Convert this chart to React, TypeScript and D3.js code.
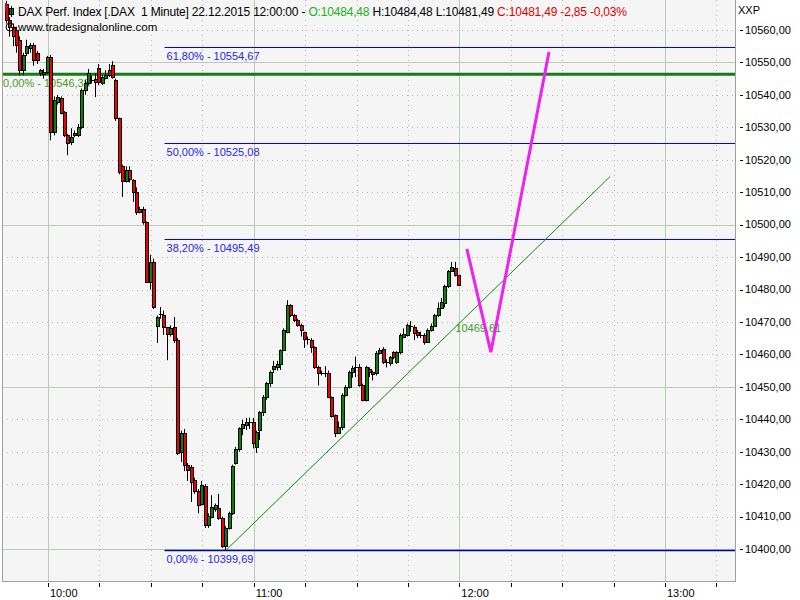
import React from "react";
import * as d3 from "d3";

// ---- data ----
const firstBarTime = "09:48";
const opens = [10568,10563,10561,10560,10556.9,10547.6,10553,10554.5,10555.3,10552.8,10546.8,10547,10547,10551.6,10528.5,10537.8,10539,10534.7,10527.6,10525.4,10528.2,10527.6,10530.1,10541.5,10543.6,10544.6,10545,10548.2,10543.6,10545.2,10547.6,10549.2,10544.6,10532.8,10518,10513.4,10516.8,10513.7,10510,10503.9,10504.8,10500.8,10482.3,10488.5,10468.7,10472,10472.1,10468.4,10466.2,10468.4,10464.4,10429.9,10435.8,10425.9,10425.3,10421.2,10417.9,10413.9,10419.4,10407.4,10409.9,10412.3,10412.6,10409.6,10400.9,10406.5,10411.1,10426.5,10430.8,10437.3,10438.2,10438.8,10439.1,10431.4,10436.7,10442.2,10446.9,10451.2,10455.5,10456.1,10457,10461.3,10466.9,10475.2,10472.1,10470.6,10469.1,10466.9,10464.7,10464.4,10462.3,10456.1,10454.3,10454.2,10454.3,10446.9,10441.3,10435.8,10437.6,10447.5,10449.9,10454.6,10456.1,10456.1,10450.6,10445.9,10455.5,10454.6,10454.2,10460.4,10461.6,10457.6,10457.3,10460.7,10457.6,10460.7,10465.5,10466,10468.8,10468.4,10466.9,10466,10466,10463.8,10467.5,10468.8,10472.1,10474.3,10475.8,10481.1,10485.8,10486.6,10484.48];
const highs = [10569,10564,10562,10561,10558,10553,10557,10556,10556,10553.5,10548,10548,10552,10552.3,10539.5,10540,10539.5,10535,10528,10529.7,10529,10531,10542,10544.5,10548,10546,10546.7,10549.5,10546,10547.6,10549.5,10550.4,10545,10533,10518.5,10518,10518,10514,10511.5,10505.5,10505.5,10501,10490.7,10489.5,10472,10474.6,10473.5,10468.5,10469,10471.5,10465,10436.5,10437,10426.5,10425.9,10422,10418.5,10421,10420,10411,10416.6,10414,10417,10410,10407,10411.5,10426,10431.5,10437.5,10439.8,10440.4,10440.5,10440.4,10436.5,10442.5,10447.5,10451.5,10455,10458,10458,10461.5,10468,10476.7,10475.5,10472.5,10471,10469.5,10467,10465.5,10465,10462.5,10456.5,10455,10456.4,10455,10447,10441.5,10439.3,10448,10450.5,10455,10456.5,10459.3,10457,10451,10456.5,10456,10455,10461,10462,10462.2,10458.5,10459.5,10461,10461,10466.5,10468,10469.5,10470.3,10469,10467.5,10467,10466.5,10468,10469.5,10472.5,10476,10477.4,10481.5,10486,10488.5,10488.5,10484.48];
const lows = [10562,10558,10555,10553,10546,10546,10552,10553,10549,10549.5,10545.8,10545,10546.5,10526,10527.5,10537,10534,10527,10521.4,10524.5,10527,10527,10529.5,10540,10543,10543.5,10539.3,10543,10543,10544.8,10545.5,10545,10532,10515.5,10508.5,10513,10513,10507,10503,10503.5,10500,10482,10480,10474,10463.5,10471,10466,10458.2,10465.5,10463.5,10429,10426.8,10424,10421,10414.5,10417,10411,10413.5,10406.5,10406.5,10409.5,10411.5,10409,10400.3,10399.69,10406,10410.5,10426,10430,10435.1,10436.7,10437,10431,10429.6,10433.6,10441,10446,10450,10454.3,10455,10455.2,10461,10466.5,10471.5,10470,10468.5,10465.5,10462,10463,10460.5,10455.5,10450.4,10453.5,10453,10446.5,10440.5,10434.5,10435.5,10436.7,10447,10449.5,10452.8,10453,10450,10445.5,10445.5,10453,10452,10453.5,10460,10457,10456,10456.5,10458.5,10457,10460,10465,10465.5,10467,10464.4,10465,10465,10463,10463.5,10467,10468.5,10471.5,10474,10474.5,10480.5,10485.5,10484,10481.49];
const closes = [10563,10561,10558,10555.5,10547.6,10552.3,10555,10555.3,10550.7,10550.7,10547.6,10546.5,10551.7,10528.5,10538.4,10539.3,10534.4,10527.6,10525.2,10527,10527.6,10530.1,10541.5,10543.6,10546.7,10544.2,10544,10543.9,10545.5,10546.1,10546,10545.5,10532.8,10516.2,10513.4,10516.8,10514,10510,10503.9,10504.8,10500.8,10482.3,10488.5,10474.6,10471.5,10472.5,10468.4,10466.2,10468.1,10464.4,10429.6,10435.8,10425.9,10424.3,10420.6,10417.9,10413.6,10419.7,10407.4,10410.2,10412.9,10413.6,10409.6,10400.9,10406.5,10411.1,10425.6,10430.8,10437.3,10438.5,10439.1,10439,10432.7,10436.1,10442.2,10446.9,10451.2,10454.6,10456.4,10457,10461.3,10467.5,10475.2,10472.1,10470.6,10469.1,10467.5,10464.7,10464.5,10462.3,10456.1,10454.3,10454.4,10454.4,10446.9,10441,10435.8,10437.6,10447.5,10449.9,10454.6,10455.8,10456.2,10450.6,10445.9,10456.1,10454.6,10453.9,10460.4,10461.3,10457.6,10457.7,10459.2,10459.2,10460.7,10466,10466.2,10469.1,10468.6,10466.6,10466,10465.8,10463.8,10467.5,10468.8,10472.1,10474.3,10476.1,10481.1,10485.8,10486.9,10484.34,10481.49];

const yTickValues = [10400,10410,10420,10430,10440,10450,10460,10470,10480,10490,10500,10510,10520,10530,10540,10550,10560];
const hourLabels = ["10:00", "11:00", "12:00", "13:00"];

const fibPercents = ["0,00%", "38,20%", "50,00%", "61,80%"];
const fibValues = [10399.69, 10495.49, 10525.08, 10554.67];
const fibStart = "10:34";

const greenLevelPercent = "0,00%";
const greenLevelValue = 10546.38;

const trendTimes = ["10:52", "12:44"];
const trendValues = [10399.69, 10514.85];
const trendLabelTime = "12:00";
const trendLabelValue = 10469.61;

const projTimes = ["12:02:12", "12:09:12", "12:26:09"];
const projValues = [10492.5, 10460.7, 10553.2];

const headerParts = [
  { text: "DAX Perf. Index [.DAX  1 Minute] 22.12.2015 12:00:00 - ", color: "#000" },
  { text: "O:10484,48", color: "#22b022" },
  { text: " H:10484,48 L:10481,49 ", color: "#000" },
  { text: "C:10481,49 -2,85 -0,03%", color: "#e00000" },
];
const siteText = "www.tradesignalonline.com";
const axisName = "XXP";

// ---- helpers ----
const parseT = (s: string) => {
  const [h, m, sec] = s.split(":").map(Number);
  return new Date(2015, 11, 22, h, m, sec || 0);
};
const fmt = (v: number) => d3.format(".2f")(v).replace(".", ",");

const FONT = "'Liberation Sans', Arial, sans-serif";
const PL = 2, PR = 735, PT = 0, PB = 581;

export default function App() {
  const x = d3.scaleTime().domain([parseT("10:00"), parseT("13:00")]).range([48, 665]);
  const y = d3.scaleLinear().domain([10400, 10560]).range([549, 30]);

  const start = parseT(firstBarTime);
  const bars = opens.map((o, i) => ({
    t: d3.timeMinute.offset(start, i),
    o, h: highs[i], l: lows[i], c: closes[i],
  }));

  const tMin = x.invert(PL), tMax = x.invert(PR);
  const quarterTicks = d3.timeMinute.every(15)!.range(tMin, tMax);
  const gridVals = d3.range(10390, 10571, 10).filter((v) => y(v) >= PT && y(v) <= PB);

  const line = d3.line<[Date, number]>().x((d) => x(d[0])).y((d) => y(d[1]));

  const dotted = "#b4b4b4";
  const solid = "#b6cdb0";

  return (
    <svg width={800} height={600} style={{ position: "absolute", left: 0, top: 0, background: "#fff" }} fontFamily={FONT}>
      <defs>
        <clipPath id="plotclip">
          <rect x={PL} y={PT} width={PR - PL} height={PB - PT} />
        </clipPath>
      </defs>
      <rect x={PL} y={PT} width={PR - PL} height={PB - PT} fill="#f5f5f5" />
      <g clipPath="url(#plotclip)">
        {/* horizontal grid */}
        {gridVals.map((v) => (
          <line key={"h" + v} x1={PL} x2={PR} y1={Math.round(y(v)) + 0.5} y2={Math.round(y(v)) + 0.5}
            stroke={v % 50 === 0 ? solid : dotted} strokeWidth={1}
            strokeDasharray={v % 50 === 0 ? undefined : "1 4"} />
        ))}
        {/* vertical grid */}
        {quarterTicks.map((t) => {
          const isHour = t.getMinutes() === 0;
          const xx = Math.round(x(t)) + 0.5;
          return (
            <line key={"v" + t.getTime()} x1={xx} x2={xx} y1={PT} y2={PB}
              stroke={isHour ? solid : dotted} strokeWidth={1}
              strokeDasharray={isHour ? undefined : "1 4"} />
          );
        })}

        {/* green level */}
        <text x={PL + 1} y={y(greenLevelValue) + 13} fontSize={11} fill="#4e9a22">
          {`${greenLevelPercent} - ${fmt(greenLevelValue)}`}
        </text>
        <line x1={PL} x2={PR} y1={y(greenLevelValue)} y2={y(greenLevelValue)} stroke="#167a16" strokeWidth={3} />

        {/* fib levels */}
        {fibValues.map((v, i) => (
          <g key={"f" + i}>
            <line x1={x(parseT(fibStart))} x2={PR} y1={Math.round(y(v)) + 0.5} y2={Math.round(y(v)) + 0.5}
              stroke={i === 0 ? "#0000a8" : "#0000ff"} strokeWidth={i === 0 ? 1.6 : 1} />
            <text x={x(parseT(fibStart)) + 2} y={y(v) + 13} fontSize={11} fill="#2626e6">
              {`${fibPercents[i]} - ${fmt(v)}`}
            </text>
          </g>
        ))}

        {/* candles */}
        {bars.map((b, i) => {
          const cx = Math.round(x(d3.timeSecond.offset(b.t, -20)));
          const top = Math.round(y(Math.max(b.o, b.c)));
          const bot = Math.round(y(Math.min(b.o, b.c)));
          const up = b.c >= b.o;
          const hgt = bot - top;
          return (
            <g key={"c" + i}>
              <line x1={cx + 0.5} x2={cx + 0.5} y1={y(b.h)} y2={y(b.l)} stroke="#000" strokeWidth={1} />
              {hgt < 2 ? (
                <line x1={cx - 1} x2={cx + 3} y1={top + 0.5} y2={top + 0.5} stroke="#000" strokeWidth={1} />
              ) : (
                <rect x={cx - 0.5} y={top + 0.5} width={3} height={hgt} fill={up ? "#008800" : "#f00000"} stroke="#000" strokeWidth={1} />
              )}
            </g>
          );
        })}

        {/* trend line */}
        <path d={line(trendTimes.map((t, i) => [parseT(t), trendValues[i]]))!} fill="none" stroke="#0a8a0a" strokeWidth={1} />
        <text x={x(parseT(trendLabelTime)) - 4} y={y(trendLabelValue) + 9} fontSize={11} fill="#3f9a2a">
          {fmt(trendLabelValue)}
        </text>

        {/* projection */}
        <path d={line(projTimes.map((t, i) => [parseT(t), projValues[i]]))!} fill="none" stroke="#ee22ee" strokeWidth={3} strokeLinejoin="miter" />
      </g>

      {/* plot border */}
      <line x1={PL + 0.5} x2={PL + 0.5} y1={PT} y2={PB} stroke="#a0a0a0" />
      <line x1={PR + 0.5} x2={PR + 0.5} y1={PT} y2={PB} stroke="#a0a0a0" />
      <line x1={PL} x2={PR + 1} y1={PB + 0.5} y2={PB + 0.5} stroke="#a0a0a0" />

      {/* header */}
      <rect x={5} y={3} width={2} height={8} fill="#e00000" />
      <rect x={9.5} y={8.5} width={4} height={6} fill="#008a00" stroke="#000" />
      <line x1={11.5} x2={11.5} y1={6} y2={17} stroke="#000" />
      <text x={18} y={16} fontSize={12} textLength={609} lengthAdjust="spacing" style={{ whiteSpace: "pre" }}>
        {headerParts.map((p, i) => (
          <tspan key={i} fill={p.color}>{p.text}</tspan>
        ))}
      </text>
      <circle cx={10} cy={27} r={4} fill="none" stroke="#000" strokeWidth={1} />
      <text x={18} y={31} fontSize={11.5} fill="#000">{siteText}</text>

      {/* y axis */}
      <text x={738} y={14} fontSize={11} fill="#000">{axisName}</text>
      {yTickValues.map((v) => (
        <g key={"y" + v}>
          <line x1={740} x2={743} y1={Math.round(y(v)) + 0.5} y2={Math.round(y(v)) + 0.5} stroke="#000" />
          <text x={745} y={y(v)} dy="0.35em" fontSize={11} fill="#000">{fmt(v)}</text>
        </g>
      ))}

      {/* x axis */}
      {quarterTicks.map((t) => (
        <line key={"xt" + t.getTime()} x1={Math.round(x(t)) + 0.5} x2={Math.round(x(t)) + 0.5} y1={583} y2={587} stroke="#000" />
      ))}
      {hourLabels.map((h) => (
        <text key={"xl" + h} x={x(parseT(h)) + 2} y={597} fontSize={11} fill="#000">{h}</text>
      ))}
    </svg>
  );
}
